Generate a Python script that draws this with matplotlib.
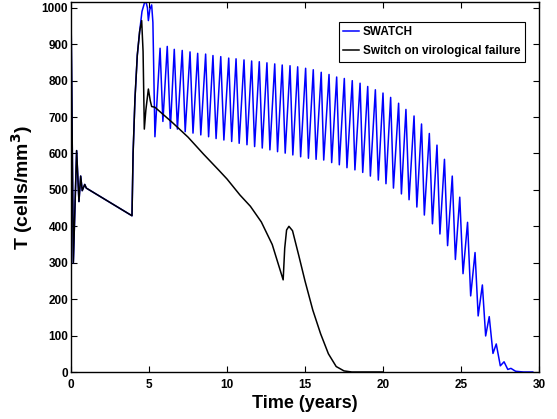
import numpy as np
import matplotlib
matplotlib.use("Agg")
import matplotlib.pyplot as plt

plt.rcParams['font.family'] = ['Liberation Sans', 'DejaVu Sans']
plt.rcParams['font.weight'] = 'bold'

# shared start (both strategies identical until ~4.4 years)
start_t = [0, 0.15, 0.36, 0.51, 0.62, 0.72, 0.88, 0.98, 3.91, 3.98, 4.10, 4.25, 4.40]
start_T = [1000, 300, 608, 468, 538, 498, 515, 505, 429, 600, 750, 870, 935]

# SWATCH transient after the first switch
swatch_t = [4.55, 4.70, 4.80, 4.90, 4.96, 5.05, 5.17, 5.25, 5.38]
swatch_T = [990, 1012, 1018, 1000, 965, 995, 1008, 960, 646]

# SWATCH oscillation peaks and troughs
peak_t = [5.71, 6.17, 6.62, 7.13, 7.63, 8.12, 8.63, 9.10, 9.60, 10.11,
          10.58, 11.09, 11.58, 12.07, 12.56, 13.06, 13.54, 14.04, 14.53, 15.04,
          15.53, 16.04, 16.54, 17.03, 17.52, 18.03, 18.53, 19.02, 19.51, 20.00,
          20.49, 21.00, 21.47, 21.99, 22.47, 22.97, 23.46, 23.94, 24.44, 24.92,
          25.42, 25.90, 26.37, 26.81, 27.26, 27.76]
peak_T = [889, 894, 886, 883, 879, 875, 873, 869, 866, 862,
          860, 857, 854, 852, 849, 846, 843, 841, 838, 834,
          830, 823, 817, 810, 806, 800, 793, 784, 775, 766,
          754, 738, 721, 703, 681, 655, 623, 584, 538, 480,
          411, 328, 239, 152, 77, 28]
trough_t = [5.89, 6.37, 6.82, 7.32, 7.82, 8.32, 8.82, 9.30, 9.80, 10.30,
            10.78, 11.28, 11.77, 12.26, 12.75, 13.24, 13.73, 14.22, 14.72, 15.22,
            15.71, 16.20, 16.71, 17.20, 17.69, 18.20, 18.70, 19.19, 19.70, 20.19,
            20.67, 21.18, 21.67, 22.17, 22.65, 23.17, 23.65, 24.14, 24.64, 25.13,
            25.62, 26.10, 26.58, 27.05, 27.52, 28.00]
trough_T = [688, 669, 667, 660, 656, 651, 646, 641, 637, 633,
            628, 624, 619, 615, 610, 605, 601, 596, 591, 587,
            584, 582, 575, 569, 561, 555, 548, 538, 527, 517,
            505, 489, 473, 453, 431, 407, 379, 347, 309, 270,
            209, 154, 99, 51, 17, 7]
tail_t = [28.2, 28.5, 29.0, 29.6]
tail_T = [10, 2, 0, 0]

# switch on virological failure
failure_t = [4.53, 4.62, 4.70, 4.80, 4.96, 5.08, 5.17, 5.38, 6.5, 7.5, 8.5, 9.5,
             10.0, 10.83, 11.5, 12.2, 12.9, 13.6, 13.7, 13.82, 13.97, 14.2,
             14.6, 15.0, 15.5, 16.0, 16.5, 17.0, 17.5, 18.0, 20.0]
failure_T = [965, 880, 667, 720, 777, 745, 729, 727, 685, 645, 598, 553,
             530, 486, 455, 412, 350, 253, 340, 390, 400, 388,
             320, 250, 170, 105, 50, 15, 3, 0, 0]

osc_t = np.column_stack([peak_t, trough_t]).ravel()
osc_T = np.column_stack([peak_T, trough_T]).ravel()
blue_t = np.concatenate([start_t, swatch_t, osc_t, tail_t])
blue_T = np.concatenate([start_T, swatch_T, osc_T, tail_T])
black_t = np.concatenate([start_t, failure_t])
black_T = np.concatenate([start_T, failure_T])

fig = plt.figure(figsize=(5.57, 4.19), dpi=100)
ax = fig.add_axes([71 / 557, 47 / 419, 468 / 557, 370 / 419])

ax.plot(blue_t, blue_T, color='#0000ff', lw=1.1, label='SWATCH')
ax.plot(black_t, black_T, color='black', lw=1.1, label='Switch on virological failure')

ax.set_xlim(0, 30)
ax.set_ylim(0, 1016)
ax.set_xticks(range(0, 31, 5))
ax.set_yticks(range(0, 1001, 100))
ax.tick_params(direction='in', top=True, right=True, length=4, width=0.8,
               labelsize=8.5)
ax.tick_params(axis='x', pad=5)
ax.tick_params(axis='y', pad=2)
for s in ax.spines.values():
    s.set_linewidth(1.0)

ax.set_xlabel('Time (years)', fontsize=13, fontweight='bold', labelpad=3)
ax.set_ylabel('T (cells/mm$^\\mathbf{3}$)', fontsize=14, fontweight='bold', labelpad=5)

leg = ax.legend(loc='upper right', bbox_to_anchor=(0.970, 0.9468), borderaxespad=0,
                fancybox=False, framealpha=1, edgecolor='black', fontsize=8.5,
                handlelength=1.35, handletextpad=0.28, borderpad=0.4,
                labelspacing=0.55)
leg.get_frame().set_linewidth(0.8)

fig.savefig('out.png', dpi=100)
